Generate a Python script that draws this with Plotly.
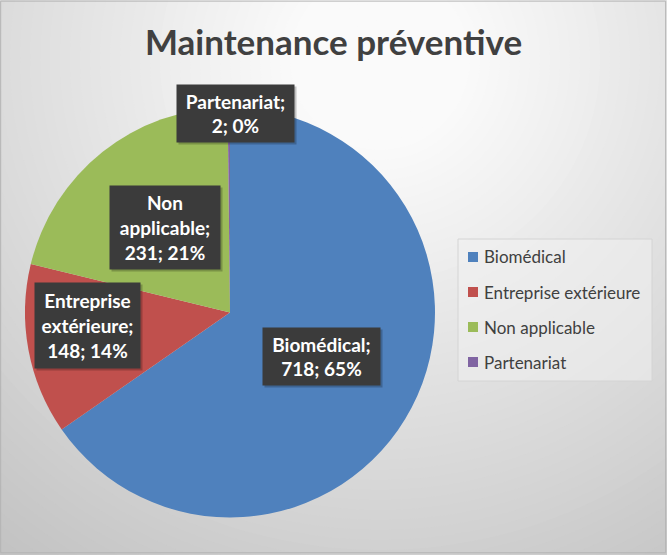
import math
import plotly.graph_objects as go

# ---- data ----
categories = ["Biomédical", "Entreprise extérieure", "Non applicable", "Partenariat"]
values = [718, 148, 231, 2]
colors = ["#4F81BD", "#C0504D", "#9BBB59", "#8064A2"]
title_text = "Maintenance préventive"

# ---- label placement (radius fraction, angular offset in degrees, box w, box h) ----
label_r = [0.495, 0.70, 0.52, 0.97]
label_dang = [-2.0, 5.5, 1.0, 2.0]
label_w = [117, 105, 110, 117]
label_h = [57, 85, 83, 57]

W, H = 667, 555
cx, cy, R = 230, 312.5, 205  # pie centre / radius in px (y downward)

FONT = "Lato"
TXT = "#404040"


def px2paper(x, y):
    return x / W, 1 - y / H


# percentages rounded so that they add up to 100 (largest remainder)
total = sum(values)
raw = [v / total * 100 for v in values]
pcts = [int(math.floor(p)) for p in raw]
rest = 100 - sum(pcts)
for i in sorted(range(len(raw)), key=lambda k: raw[k] - pcts[k], reverse=True)[:rest]:
    pcts[i] += 1

fig = go.Figure()

fig.add_trace(go.Pie(
    labels=categories, values=values, sort=False, direction="clockwise",
    rotation=0, marker=dict(colors=colors, line=dict(width=0)),
    textinfo="none", showlegend=False, hoverinfo="label+value+percent",
    domain=dict(x=[(cx - R) / W, (cx + R) / W], y=[1 - (cy + R) / H, 1 - (cy - R) / H]),
))

# ---- background radial gradient ----
shapes = []
gx, gy = 380, 60
for r in range(660, 0, -10):
    t = min(1.0, max(0.0, (r - 90) / (630 - 90)))
    g = int(round(250 - (250 - 194) * t))
    shapes.append(dict(
        type="circle", xref="paper", yref="paper", layer="below",
        x0=(gx - r) / W, x1=(gx + r) / W, y0=1 - (gy + r) / H, y1=1 - (gy - r) / H,
        fillcolor=f"rgb({g},{g},{g})", line=dict(width=0),
    ))

annotations = []

# ---- legend (box, swatches, texts) ----
lg_x0, lg_y0, lg_x1, lg_y1 = 458, 239, 652, 381
lg_first, lg_step = 257, 35
x0p, y0p = px2paper(lg_x0, lg_y1)
x1p, y1p = px2paper(lg_x1, lg_y0)
shapes.append(dict(type="rect", xref="paper", yref="paper", layer="below",
                   x0=x0p, x1=x1p, y0=y0p, y1=y1p,
                   fillcolor="rgba(240,240,240,0.55)", line=dict(color="#d4d4d4", width=1)))
for i, (c, col) in enumerate(zip(categories, colors)):
    yc = lg_first + i * lg_step
    a0 = px2paper(468, yc + 5)
    a1 = px2paper(478, yc - 5)
    shapes.append(dict(type="rect", xref="paper", yref="paper", layer="above",
                       x0=a0[0], x1=a1[0], y0=a0[1], y1=a1[1],
                       fillcolor=col, line=dict(width=0)))
    tx, ty = px2paper(482, yc)
    annotations.append(dict(x=tx, y=ty, xref="paper", yref="paper", text=c, showarrow=False,
                            xanchor="left", yanchor="middle",
                            font=dict(family=FONT, size=17, color=TXT)))

# chart border
shapes.append(dict(type="rect", xref="paper", yref="paper", x0=0.001, x1=0.998, y0=0.004, y1=0.998,
                   line=dict(color="#b4b4b4", width=1), fillcolor="rgba(0,0,0,0)", layer="above"))

# ---- data labels ----
cum = 0
for i, (c, v) in enumerate(zip(categories, values)):
    mid = (cum + v / 2) / total * 360.0
    cum += v
    a = math.radians(mid + label_dang[i])
    px = cx + label_r[i] * R * math.sin(a)
    py = cy - label_r[i] * R * math.cos(a)
    text = f"{c.replace(' ', '<br>')};<br>{v}; {pcts[i]}%"
    xp, yp = px2paper(px, py)
    # shadow
    annotations.append(dict(
        x=xp, y=yp, xref="paper", yref="paper", text="", showarrow=False,
        xanchor="center", yanchor="middle",
        width=label_w[i], height=label_h[i], bgcolor="rgba(0,0,0,0.22)",
        xshift=2, yshift=-2, borderpad=0,
    ))
    annotations.append(dict(
        x=xp, y=yp, xref="paper", yref="paper", text=text, showarrow=False,
        xanchor="center", yanchor="middle",
        width=label_w[i], height=label_h[i], bgcolor="#3b3b3b", borderpad=0,
        font=dict(family=FONT, size=19, color="white", weight="bold"),
        align="center", valign="middle",
    ))

fig.update_layout(
    width=W, height=H, margin=dict(l=0, r=0, t=0, b=0),
    paper_bgcolor="#c4c4c4", plot_bgcolor="rgba(0,0,0,0)",
    showlegend=False,
    title=dict(text=title_text, x=0.5, xanchor="center", y=1 - 43 / H, yanchor="middle",
               font=dict(family=FONT, size=35, color=TXT, weight="bold")),
    shapes=shapes, annotations=annotations,
)

fig.write_html("out.html")
